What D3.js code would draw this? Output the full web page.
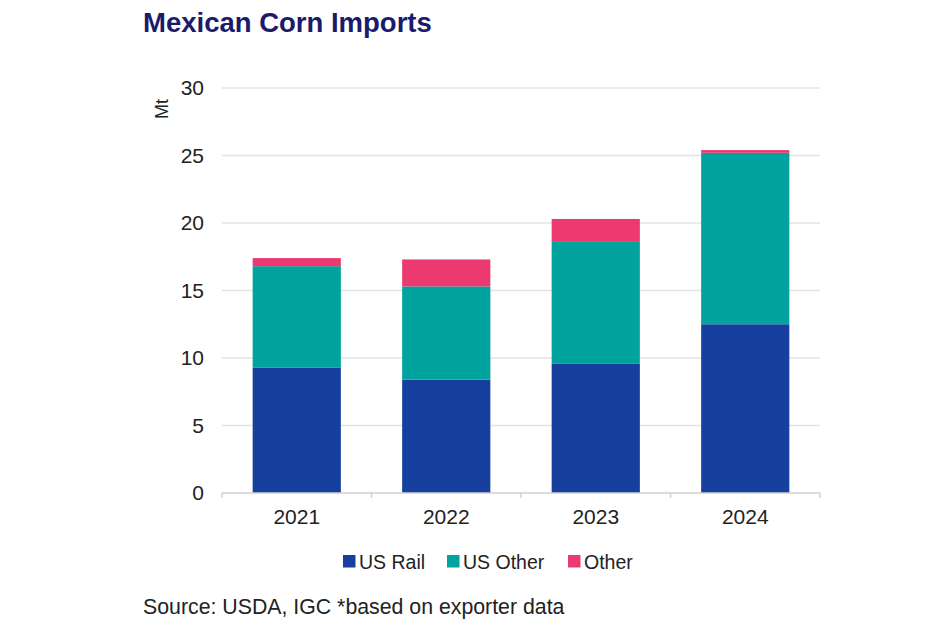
<!DOCTYPE html>
<html><head><meta charset="utf-8">
<script src="https://cdn.jsdelivr.net/npm/d3@7"></script>
<style>
body{margin:0;background:#fff;}
svg{display:block;}
</style></head>
<body>
<svg id="chart" width="940" height="627"></svg>
<script>
const categories = ["2021","2022","2023","2024"];
const seriesNames = ["US Rail","US Other","Other"];
const usRail  = [9.3, 8.4, 9.6, 12.5];
const usOther = [7.5, 6.9, 9.0, 12.7];
const other   = [0.6, 2.0, 1.7, 0.2];
const yTicks = [0,5,10,15,20,25,30];
const colors = ["#173f9e","#00a39d","#ec3a70"];

const rows = categories.map((c,i)=>({cat:c,"US Rail":usRail[i],"US Other":usOther[i],"Other":other[i]}));
const stack = d3.stack().keys(seriesNames)(rows);

const svg = d3.select("#chart");
const pLeft=222,pRight=820,pTop=88,pBottom=493;
const x = d3.scaleBand().domain(categories).range([pLeft,pRight]).paddingInner(0.41).paddingOuter(0.205);
const y = d3.scaleLinear().domain([0,30]).range([pBottom,pTop]);
const font = "'Liberation Sans', Arial, sans-serif";

svg.append("text").attr("x",143).attr("y",32).text("Mexican Corn Imports")
  .attr("font-family",font).attr("font-weight","bold").attr("font-size",27.5).attr("fill","#1b1a6b");

// gridlines
svg.append("g").selectAll("line").data(yTicks.filter(t=>t>0)).join("line")
  .attr("x1",pLeft).attr("x2",pRight).attr("y1",d=>y(d)).attr("y2",d=>y(d))
  .attr("stroke","#e3e3e3").attr("stroke-width",1.5);

// y axis labels
const yAxis = d3.axisLeft(y).tickValues(yTicks).tickSize(0).tickPadding(18);
const yg = svg.append("g").attr("transform",`translate(${pLeft},0)`).call(yAxis);
yg.select(".domain").remove();
yg.selectAll("text").attr("font-family",font).attr("font-size",21).attr("fill","#222");

svg.append("text").attr("transform","translate(168,109) rotate(-90)").attr("text-anchor","middle")
  .text("Mt").attr("font-family",font).attr("font-size",18).attr("fill","#222");

// bars
svg.append("g").selectAll("g").data(stack).join("g").attr("fill",(d,i)=>colors[i])
  .selectAll("rect").data(d=>d).join("rect")
  .attr("x",d=>x(d.data.cat)).attr("width",x.bandwidth())
  .attr("y",d=>y(d[1])).attr("height",d=>y(d[0])-y(d[1]));

// x axis
const step = x.step();
const xg = svg.append("g").attr("transform",`translate(0,${pBottom})`);
xg.append("line").attr("x1",pLeft).attr("x2",pRight).attr("stroke","#d0d0d0").attr("stroke-width",1.5);
const bounds = [pLeft].concat(categories.map(c=>x(c)+x.bandwidth()+ (step-x.bandwidth())/2));
xg.selectAll("line.tk").data(bounds).join("line").attr("class","tk")
  .attr("x1",d=>d).attr("x2",d=>d).attr("y1",0).attr("y2",5).attr("stroke","#d0d0d0").attr("stroke-width",1.5);
const xAxis = d3.axisBottom(x).tickSize(0).tickPadding(16);
const xa = svg.append("g").attr("transform",`translate(0,${pBottom})`).call(xAxis);
xa.select(".domain").remove();
xa.selectAll("text").attr("font-family",font).attr("font-size",21).attr("fill","#222");

// legend
const legendItems = [{name:"US Rail",x:343},{name:"US Other",x:447},{name:"Other",x:568}];
const lg = svg.append("g");
legendItems.forEach((it,i)=>{
  lg.append("rect").attr("x",it.x).attr("y",555).attr("width",12.5).attr("height",12.5).attr("fill",colors[i]);
  lg.append("text").attr("x",it.x+16).attr("y",568.5).text(it.name)
    .attr("font-family",font).attr("font-size",19.5).attr("fill","#222");
});

svg.append("text").attr("x",143).attr("y",614).text("Source: USDA, IGC *based on exporter data")
  .attr("font-family",font).attr("font-size",21.3).attr("fill","#222");
</script>
</body></html>
